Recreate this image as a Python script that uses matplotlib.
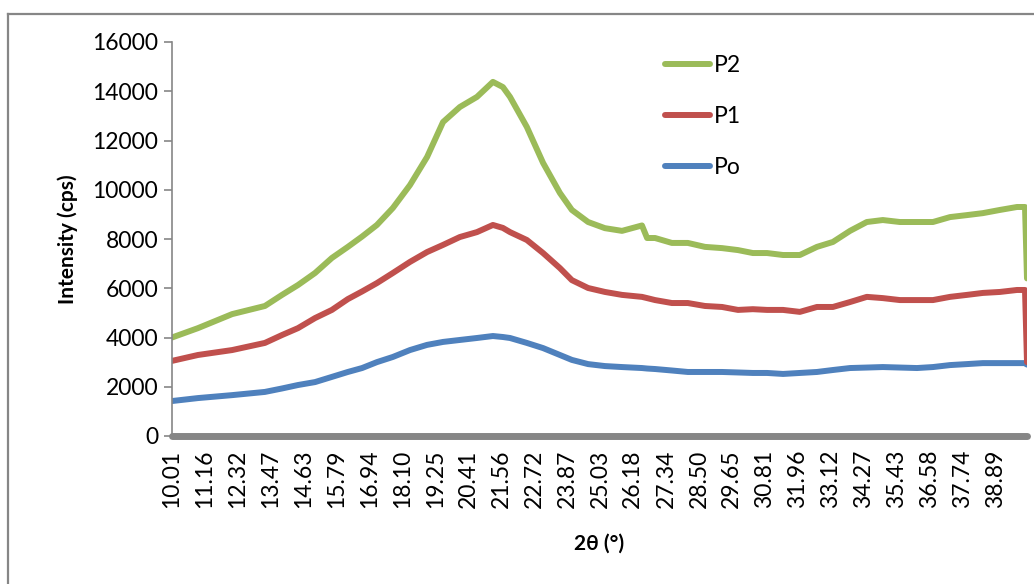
import matplotlib
matplotlib.use('Agg')
import matplotlib.pyplot as plt
from matplotlib.lines import Line2D

# 2theta positions (deg)
two_theta = [10.01, 10.92, 12.12, 13.27, 13.87, 14.43, 15.03, 15.62, 16.18, 16.68,
             17.20, 17.76, 18.36, 18.96, 19.52, 20.11, 20.71, 21.27, 21.62, 21.87,
             22.46, 23.03, 23.62, 24.04, 24.61, 25.20, 25.80, 26.50, 26.68, 26.96,
             27.55, 28.11, 28.71, 29.31, 29.87, 30.39, 30.89, 31.45, 32.04, 32.64,
             33.20, 33.80, 34.39, 34.95, 35.55, 36.15, 36.71, 37.31, 37.90, 38.46,
             39.06, 39.66, 39.94, 40.01]

p2 = [4000, 4380, 4950, 5280, 5730, 6130, 6620, 7230, 7680, 8100,
      8570, 9260, 10190, 11330, 12750, 13360, 13770, 14380, 14170, 13770,
      12550, 11090, 9870, 9180, 8690, 8440, 8330, 8550, 8040, 8040,
      7840, 7840, 7680, 7630, 7550, 7430, 7430, 7350, 7350, 7680,
      7880, 8330, 8690, 8770, 8690, 8690, 8690, 8890, 8970, 9050,
      9180, 9300, 9300, 6400]

p1 = [3050, 3290, 3490, 3780, 4100, 4380, 4790, 5120, 5560, 5870,
      6210, 6620, 7070, 7470, 7760, 8080, 8280, 8570, 8450, 8280,
      7960, 7430, 6820, 6330, 6010, 5850, 5730, 5650, 5600, 5520,
      5400, 5400, 5280, 5240, 5120, 5150, 5120, 5120, 5040, 5240,
      5240, 5440, 5650, 5600, 5520, 5520, 5520, 5650, 5730, 5810,
      5850, 5930, 5930, 3000]

po = [1420, 1540, 1660, 1790, 1930, 2070, 2190, 2400, 2600, 2760,
      3000, 3210, 3490, 3700, 3820, 3900, 3980, 4060, 4020, 3980,
      3780, 3570, 3290, 3090, 2920, 2840, 2800, 2760, 2740, 2720,
      2660, 2600, 2600, 2600, 2580, 2560, 2560, 2520, 2560, 2600,
      2680, 2760, 2780, 2800, 2780, 2760, 2800, 2880, 2920, 2960,
      2960, 2960, 2960, 2900]

x_labels = ['10.01', '11.16', '12.32', '13.47', '14.63', '15.79', '16.94', '18.10',
            '19.25', '20.41', '21.56', '22.72', '23.87', '25.03', '26.18', '27.34',
            '28.50', '29.65', '30.81', '31.96', '33.12', '34.27', '35.43', '36.58',
            '37.74', '38.89']

plt.rcParams['font.family'] = ['Lato', 'DejaVu Sans']

fig = plt.figure(figsize=(10.34, 5.84), dpi=100)
ax = fig.add_axes([172 / 1034, 1 - 436 / 584, (1027 - 172) / 1034, (436 - 42) / 584])

lw = 4.3
ax.plot(two_theta, po, color='#4F81BD', lw=lw, label='Po', solid_capstyle='round')
ax.plot(two_theta, p1, color='#C0504D', lw=lw, label='P1', solid_capstyle='round')
ax.plot(two_theta, p2, color='#9BBB59', lw=lw, label='P2', solid_capstyle='round')

ax.set_xlim(10.01, 40.01)
ax.set_ylim(0, 16000)
ax.set_yticks(range(0, 16001, 2000))
ax.set_xticks([float(s) for s in x_labels])
ax.set_xticklabels(x_labels, rotation=90)

for s in ['top', 'right']:
    ax.spines[s].set_visible(False)
ax.spines['left'].set_color('#868686')
ax.spines['left'].set_linewidth(1.2)
ax.spines['bottom'].set_color('#868686')
ax.spines['bottom'].set_linewidth(5)
ax.spines['bottom'].set_capstyle('round')

ax.tick_params(axis='y', direction='out', length=6, width=1.2, color='#868686',
               labelsize=16.5, pad=4)
ax.tick_params(axis='x', length=0, labelsize=16.5, pad=10)

ax.set_ylabel('Intensity (cps)', fontsize=15, fontweight='bold', labelpad=10)
ax.set_xlabel('2θ (°)', fontsize=15, fontweight='bold', labelpad=18)

h, l = ax.get_legend_handles_labels()
ax.legend(h[::-1], l[::-1], loc='upper left', bbox_to_anchor=(665 / 1034, 1 - 55 / 584),
          bbox_transform=fig.transFigure, frameon=False, fontsize=16.5,
          borderpad=0, borderaxespad=0, handlelength=1.95, handletextpad=0.2,
          labelspacing=1.3)

# outer chart frame (left and top edges visible)
fig.add_artist(Line2D([8 / 1034, 8 / 1034], [0, 1 - 14 / 584], color='#868686', lw=1.6,
                      transform=fig.transFigure))
fig.add_artist(Line2D([8 / 1034, 1], [1 - 14 / 584, 1 - 14 / 584], color='#868686', lw=1.6,
                      transform=fig.transFigure))

fig.savefig('out.png', dpi=100)
